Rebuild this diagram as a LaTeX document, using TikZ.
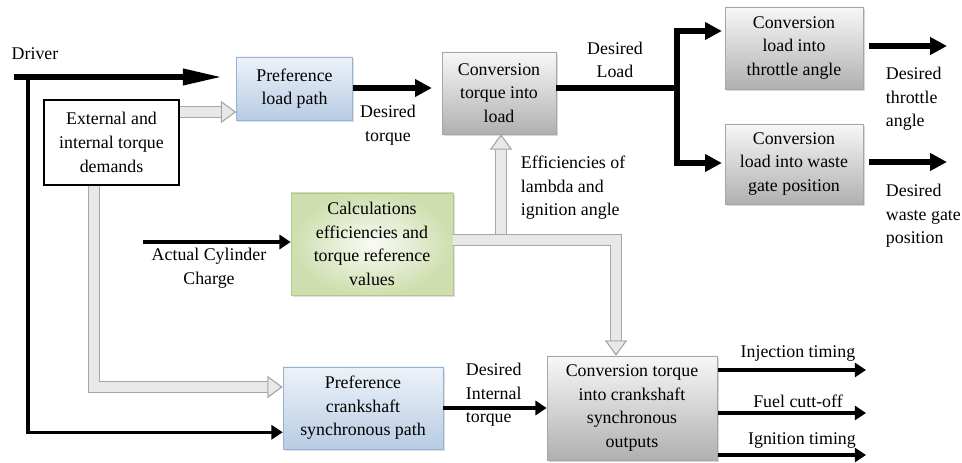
\documentclass[tikz,border=0pt]{standalone}
\usepackage{fontspec}
\setmainfont{Liberation Serif}
\usetikzlibrary{arrows.meta,calc,shadows}
\definecolor{boxblue}{HTML}{B8CCE4}
\definecolor{boxblueedge}{HTML}{95B3D7}
\definecolor{boxgreen}{HTML}{C3D69B}
\definecolor{boxgreenedge}{HTML}{B3C98A}

\begin{document}
\begin{tikzpicture}[x=0.25mm, y=-0.25mm, font=\fontsize{12.7}{16.8}\selectfont,
  greybox/.style={draw=gray!70, top color=gray!6, bottom color=gray!62, align=center, inner sep=0pt,
    drop shadow={opacity=0.3, shadow xshift=1.2pt, shadow yshift=-1.2pt}},
  bluebox/.style={draw=boxblueedge, top color=boxblue!25, bottom color=boxblue, align=center, inner sep=0pt,
    drop shadow={opacity=0.25, shadow xshift=1.2pt, shadow yshift=-1.2pt}},
  greenbox/.style={draw=boxgreenedge, inner color=boxgreen!10, outer color=boxgreen!80, align=center, inner sep=0pt,
    drop shadow={opacity=0.25, shadow xshift=1.2pt, shadow yshift=-1.2pt}},
  plainbox/.style={draw, line width=0.8pt, fill=white, align=center, inner sep=0pt},
  fatline/.style={line width=4pt},
  fatarrow/.style={line width=4pt, -{Triangle[length=12pt, width=12pt]}},
  slimarrow/.style={line width=2.2pt, -{Triangle[length=8pt, width=10pt]}},
  pipe/.style={draw=gray!70, line width=0.8pt, double=gray!18, double distance=7pt,
    -{Triangle[length=11pt, width=16pt, fill=gray!18]}}]

\useasboundingbox (0,0) rectangle (962,463);

% Blocks
\node[bluebox, minimum width=29mm, minimum height=15.75mm] (plp) at (294.5,88.5) {Preference\\load path};
\node[plainbox, minimum width=33.75mm, minimum height=21.25mm] (ext) at (111.5,142.5) {External and\\internal torque\\demands};
\node[greybox, minimum width=28.5mm, minimum height=20.5mm] (ctl) at (499,93) {Conversion\\torque into\\load};
\node[greybox, minimum width=34.5mm, minimum height=20.5mm] (cth) at (794,48) {Conversion\\load into\\throttle angle};
\node[greybox, minimum width=34.5mm, minimum height=20mm] (cwg) at (794,164) {Conversion\\load into waste\\gate position};
\node[greenbox, minimum width=40.5mm, minimum height=25.5mm] (calc) at (372,244) {Calculations\\efficiencies and\\torque reference\\values};
\node[bluebox, minimum width=40mm, minimum height=20.5mm] (pcs) at (363,408) {Preference\\crankshaft\\synchronous path};
\node[greybox, minimum width=42.5mm, minimum height=26mm] (cco) at (632,408) {Conversion torque\\into crankshaft\\synchronous\\outputs};

% Driver input
\node (drv) at (35,54) {Driver};
\coordinate (drvin) at (14,77);
\coordinate (drvsplit) at (28,77);
\draw[fatarrow, -{Triangle[length=28pt, width=11pt]}, shorten >=10pt] (drvin) -- (drvin -| plp.west);
\draw[slimarrow] (drvsplit) |- ($(pcs.south west)+(0,-17)$);

% Grey signal pipes
\draw[pipe] (ext.east |- 0,112) -- (plp.west |- 0,112);
\draw[pipe] (ext.south -| 94,0) |- (pcs.west |- 0,387);
\coordinate (effsplit) at (501,240);
\draw[pipe] (effsplit) -- (ctl.south -| effsplit);
\draw[pipe] (calc.east |- 0,240) -| (cco.north -| 616,0);
\node[align=left, anchor=west] (eff) at (516,188) {Efficiencies of\\lambda and\\ignition angle};

% Torque to load
\draw[fatarrow, shorten >=7pt] (plp.east |- 0,88) -- (ctl.west |- 0,88);
\node[align=center] (dtq) at (388,125) {Desired\\torque};
\node[align=center] (dld) at (615,60) {Desired\\Load};
\coordinate (ldsplit) at (677,88);
\draw[fatline] (ctl.east |- 0,88) -- (ldsplit);
\draw[fatarrow, shorten >=2pt] (ldsplit) |- (cth.west |- 0,31);
\draw[fatarrow, shorten >=2pt] (ldsplit) |- (cwg.west |- 0,163);

% Throttle and waste gate outputs
\coordinate (thout) at (947,46);
\coordinate (wgout) at (947,162);
\draw[fatarrow, shorten <=4pt] (cth.east |- thout) -- (thout);
\draw[fatarrow, shorten <=4pt] (cwg.east |- wgout) -- (wgout);
\node[align=left, anchor=west] (dth) at (881,99) {Desired\\throttle\\angle};
\node[align=left, anchor=west] (dwg) at (881,216) {Desired\\waste gate\\position};

% Cylinder charge
\coordinate (chgin) at (143,242);
\draw[slimarrow] (chgin) -- (calc.west |- chgin);
\node[align=center] (chg) at (209,268) {Actual Cylinder\\Charge};

% Crankshaft path
\draw[slimarrow] (pcs.east |- 0,408) -- (cco.west |- 0,408);
\node[align=left, anchor=west] (dit) at (461,395) {Desired\\Internal\\torque};
\coordinate (injout) at (866,370);
\coordinate (fcoout) at (866,413);
\coordinate (ignout) at (866,455);
\draw[slimarrow] (cco.east |- injout) ++(1,0) -- (injout);
\draw[slimarrow] (cco.east |- fcoout) ++(1,0) -- (fcoout);
\draw[slimarrow] (cco.east |- ignout) ++(1,0) -- (ignout);
\node (inj) at (798,354) {Injection timing};
\node (fco) at (798,401) {Fuel cutt-off};
\node (ign) at (802,441) {Ignition timing};

\end{tikzpicture}
\end{document}
